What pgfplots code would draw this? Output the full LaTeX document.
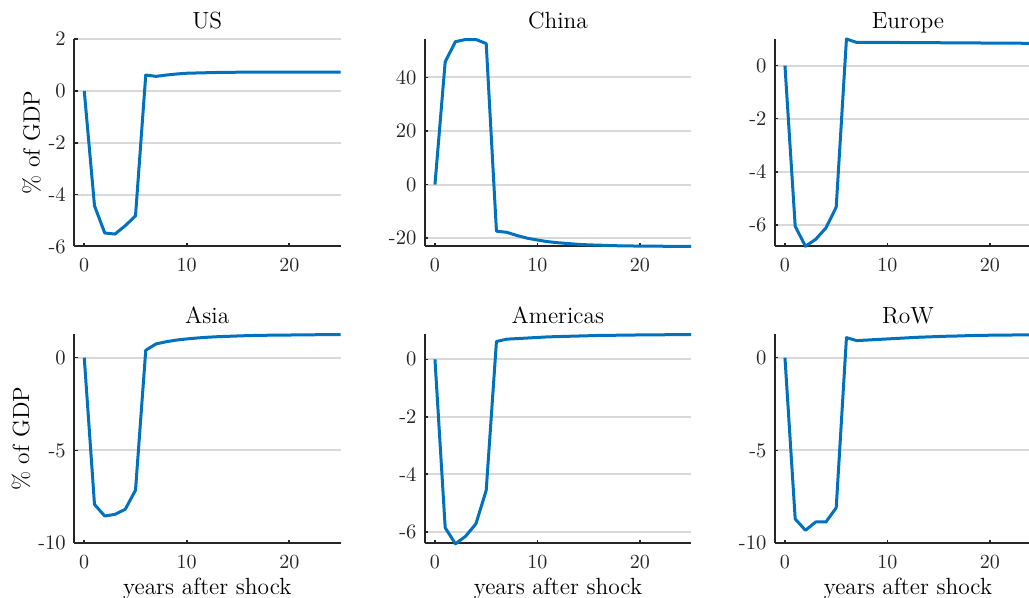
\documentclass[border=0pt]{standalone}
\usepackage{pgfplots}
\pgfplotsset{compat=1.18}
\definecolor{mblue}{HTML}{0072BD}
\definecolor{axc}{HTML}{262626}
\definecolor{gridc}{HTML}{D9D9D9}
\pgfplotsset{
 panel/.style={
  scale only axis, width=133.25pt, anchor=south west,
  xmin=-1, xmax=25, xtick={0,10,20},
  axis x line*=bottom, axis y line*=left,
  axis line style={draw=axc, line width=1pt, -},
  tick align=inside, major tick length=1.8pt,
  tick style={draw=axc, line width=0.8pt},
  ymajorgrids, major grid style={draw=gridc, line width=1pt},
  ticklabel style={font=\fontsize{10.3}{12}\selectfont, text=axc},
  xticklabel style={yshift=-2.4pt},
  yticklabel style={xshift=-0.6pt},
  every axis title/.style={at={(0.5,1)}, anchor=base, yshift=5.35pt, font=\fontsize{11.7}{14}\selectfont},
  label style={font=\fontsize{11.7}{14}\selectfont},
  ylabel shift=-3pt,
  clip=false,
 },
 toprow/.style={height=103.75pt},
 botrow/.style={height=104.5pt, xlabel={years after shock},
   xlabel style={at={(axis description cs:0.5,0)}, anchor=base, yshift=-25.4pt}},
 ln/.style={mblue, line width=1.5pt, line join=round, no marks}
}
\begin{document}
\begin{tikzpicture}
\useasboundingbox (0,0) rectangle (514.5pt,299pt);
% US
\begin{axis}[panel, toprow, at={(37pt,175.75pt)}, title={US}, ylabel={\% of GDP},
  ymin=-6, ymax=2, ytick={-6,-4,-2,0,2}, yticklabels={-6,-4,-2,0,2}]
\addplot[ln] coordinates {(0,0)(1,-4.43)(2,-5.48)(3,-5.52)(4,-5.2)(5,-4.82)(6,0.61)(7,0.56)(8,0.61)(9,0.65)(10,0.68)(11,0.69)(12,0.70)(13,0.71)(14,0.71)(15,0.72)(16,0.72)(17,0.72)(18,0.72)(19,0.72)(20,0.72)(21,0.72)(22,0.72)(23,0.72)(24,0.72)(25,0.72)};
\end{axis}
% China
\begin{axis}[panel, toprow, at={(212.35pt,175.75pt)}, title={China},
  ymin=-23.1, ymax=54.3, ytick={-20,0,20,40}, yticklabels={-20,0,20,40}]
\addplot[ln] coordinates {(0,0)(1,45.8)(2,53.3)(3,54.1)(4,54.1)(5,52.6)(6,-17.4)(7,-17.8)(8,-19.0)(9,-20.0)(10,-20.7)(11,-21.3)(12,-21.7)(13,-22.0)(14,-22.3)(15,-22.5)(16,-22.6)(17,-22.75)(18,-22.85)(19,-22.9)(20,-22.95)(21,-23.0)(22,-23.0)(23,-23.05)(24,-23.1)(25,-23.1)};
\end{axis}
% Europe
\begin{axis}[panel, toprow, at={(387.35pt,175.75pt)}, title={Europe},
  ymin=-6.81, ymax=1.0, ytick={-6,-4,-2,0}, yticklabels={-6,-4,-2,0}]
\addplot[ln] coordinates {(0,0)(1,-6.05)(2,-6.8)(3,-6.54)(4,-6.11)(5,-5.33)(6,1.0)(7,0.87)(8,0.87)(9,0.87)(10,0.87)(11,0.87)(12,0.86)(13,0.86)(14,0.86)(15,0.86)(16,0.85)(17,0.85)(18,0.85)(19,0.85)(20,0.84)(21,0.84)(22,0.84)(23,0.84)(24,0.83)(25,0.83)};
\end{axis}
% Asia
\begin{axis}[panel, botrow, at={(37pt,27.35pt)}, title={Asia}, ylabel={\% of GDP},
  ymin=-10, ymax=1.26, ytick={-10,-5,0}, yticklabels={-10,-5,0}]
\addplot[ln] coordinates {(0,0)(1,-7.91)(2,-8.53)(3,-8.44)(4,-8.17)(5,-7.14)(6,0.40)(7,0.74)(8,0.86)(9,0.95)(10,1.01)(11,1.06)(12,1.10)(13,1.13)(14,1.15)(15,1.17)(16,1.19)(17,1.20)(18,1.21)(19,1.22)(20,1.22)(21,1.23)(22,1.23)(23,1.24)(24,1.24)(25,1.24)};
\end{axis}
% Americas
\begin{axis}[panel, botrow, at={(212.35pt,27.35pt)}, title={Americas},
  ymin=-6.40, ymax=0.87, ytick={-6,-4,-2,0}, yticklabels={-6,-4,-2,0}]
\addplot[ln] coordinates {(0,0)(1,-5.86)(2,-6.42)(3,-6.15)(4,-5.72)(5,-4.56)(6,0.62)(7,0.70)(8,0.72)(9,0.74)(10,0.76)(11,0.78)(12,0.79)(13,0.80)(14,0.81)(15,0.82)(16,0.83)(17,0.83)(18,0.84)(19,0.84)(20,0.85)(21,0.85)(22,0.85)(23,0.86)(24,0.86)(25,0.86)};
\end{axis}
% RoW
\begin{axis}[panel, botrow, at={(387.35pt,27.35pt)}, title={RoW},
  ymin=-10, ymax=1.26, ytick={-10,-5,0}, yticklabels={-10,-5,0}]
\addplot[ln] coordinates {(0,0)(1,-8.69)(2,-9.30)(3,-8.85)(4,-8.85)(5,-8.09)(6,1.08)(7,0.92)(8,0.95)(9,0.98)(10,1.01)(11,1.04)(12,1.07)(13,1.10)(14,1.12)(15,1.14)(16,1.16)(17,1.17)(18,1.19)(19,1.20)(20,1.21)(21,1.22)(22,1.22)(23,1.23)(24,1.23)(25,1.24)};
\end{axis}
\end{tikzpicture}
\end{document}
